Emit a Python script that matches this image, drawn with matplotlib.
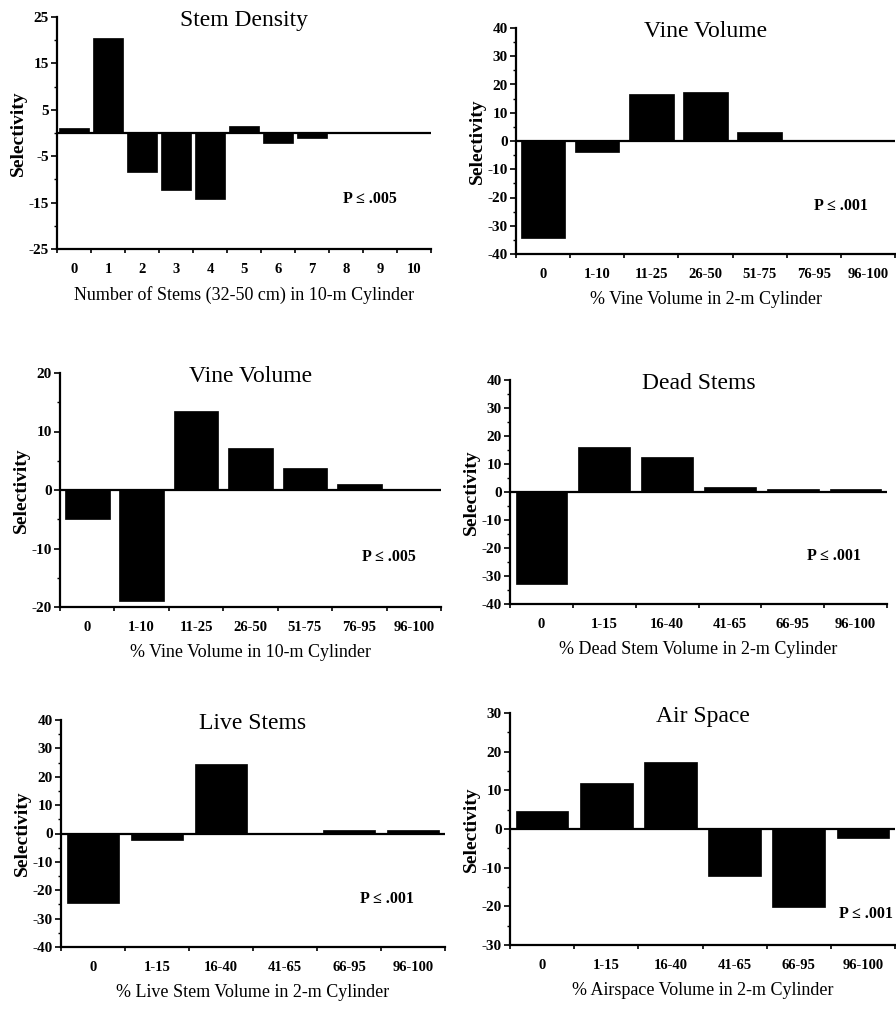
import matplotlib
matplotlib.use("Agg")
import matplotlib.pyplot as plt
import numpy as np

plt.rcParams['font.family'] = ['Liberation Serif', 'DejaVu Serif']
plt.rcParams['axes.unicode_minus'] = False

# panel data
stem_cats = ["0", "1", "2", "3", "4", "5", "6", "7", "8", "9", "10"]
stem_vals = [1.0, 20.5, -8.3, -12.2, -14.2, 1.5, -2.2, -1.0, 0, 0, 0]

vine2_cats = ["0", "1-10", "11-25", "26-50", "51-75", "76-95", "96-100"]
vine2_vals = [-34.3, -3.9, 16.8, 17.3, 3.1, 0, 0]

vine10_cats = ["0", "1-10", "11-25", "26-50", "51-75", "76-95", "96-100"]
vine10_vals = [-5.0, -19.0, 13.5, 7.1, 3.8, 1.0, 0]

dead_cats = ["0", "1-15", "16-40", "41-65", "66-95", "96-100"]
dead_vals = [-33.0, 16.0, 12.5, 1.8, 1.0, 1.0]

live_cats = ["0", "1-15", "16-40", "41-65", "66-95", "96-100"]
live_vals = [-24.4, -2.2, 24.5, 0.3, 1.2, 1.2]

air_cats = ["0", "1-15", "16-40", "41-65", "66-95", "96-100"]
air_vals = [4.6, 12.0, 17.2, -12.2, -20.1, -2.2]

W, H = 896, 1009


def panel(fig, box, cats, vals, title, xlabel, ylim, major, minor, ptext, ppos, width=0.82):
    left, right, top, bottom = box
    ax = fig.add_axes([left / W, 1 - bottom / H, (right - left) / W, (bottom - top) / H])
    n = len(cats)
    x = np.arange(n)
    ax.bar(x, vals, width=width, color='black', edgecolor='black', linewidth=0.5, zorder=2)
    ax.axhline(0, color='black', lw=1.6, zorder=3)
    ax.set_xlim(-0.5, n - 0.5)
    ax.set_ylim(*ylim)
    ax.spines['top'].set_visible(False)
    ax.spines['right'].set_visible(False)
    ax.spines['left'].set_linewidth(1.6)
    ax.spines['bottom'].set_linewidth(1.6)
    ax.set_yticks(major)
    ax.set_yticks(minor, minor=True)
    ax.set_xticks(x)
    ax.set_xticklabels(cats, fontweight='bold', fontsize=10.5)
    ax.set_xticks(np.arange(n + 1) - 0.5, minor=True)
    ax.tick_params(axis='x', which='major', length=0, pad=10)
    ax.tick_params(axis='x', which='minor', length=3, width=1.2, direction='out')
    ax.tick_params(axis='y', which='major', length=4, width=1.2, labelsize=11, pad=2)
    ax.tick_params(axis='y', which='minor', length=2.5, width=1.0)
    for lab in ax.get_yticklabels():
        lab.set_fontweight('bold')
    ax.set_ylabel("Selectivity", fontsize=14, fontweight='bold', labelpad=1)
    ax.set_xlabel(xlabel, fontsize=13, labelpad=7)
    ax.text(0.5, 0.985, title, transform=ax.transAxes, ha='center', va='center', fontsize=17)
    ax.text(ppos[0], ppos[1], ptext, ha='center', va='center', fontsize=11.5, fontweight='bold')
    return ax


fig = plt.figure(figsize=(W / 100, H / 100), dpi=100)

panel(fig, (57, 431, 17, 249), stem_cats, stem_vals, "Stem Density",
      "Number of Stems (32-50 cm) in 10-m Cylinder", (-25, 25),
      [-25, -15, -5, 5, 15, 25], [-20, -10, 0, 10, 20], "P \u2264 .005", (8.7, -14.2), width=0.9)

panel(fig, (516, 895, 28, 254), vine2_cats, vine2_vals, "Vine Volume",
      "% Vine Volume in 2-m Cylinder", (-40, 40),
      np.arange(-40, 41, 10), np.arange(-35, 40, 10), "P \u2264 .001", (5.5, -23))

panel(fig, (60, 441, 373, 607), vine10_cats, vine10_vals, "Vine Volume",
      "% Vine Volume in 10-m Cylinder", (-20, 20),
      [-20, -10, 0, 10, 20], np.arange(-15, 20, 10), "P \u2264 .005", (5.55, -11.5))

panel(fig, (510, 887, 380, 604), dead_cats, dead_vals, "Dead Stems",
      "% Dead Stem Volume in 2-m Cylinder", (-40, 40),
      np.arange(-40, 41, 10), np.arange(-35, 40, 10), "P \u2264 .001", (4.65, -23))

panel(fig, (61, 445, 720, 947), live_cats, live_vals, "Live Stems",
      "% Live Stem Volume in 2-m Cylinder", (-40, 40),
      np.arange(-40, 41, 10), np.arange(-35, 40, 10), "P \u2264 .001", (4.6, -23))

panel(fig, (510, 895, 713, 945), air_cats, air_vals, "Air Space",
      "% Airspace Volume in 2-m Cylinder", (-30, 30),
      np.arange(-30, 31, 10), np.arange(-25, 30, 5), "P \u2264 .001", (5.05, -22))

fig.savefig("out.png", dpi=100)
